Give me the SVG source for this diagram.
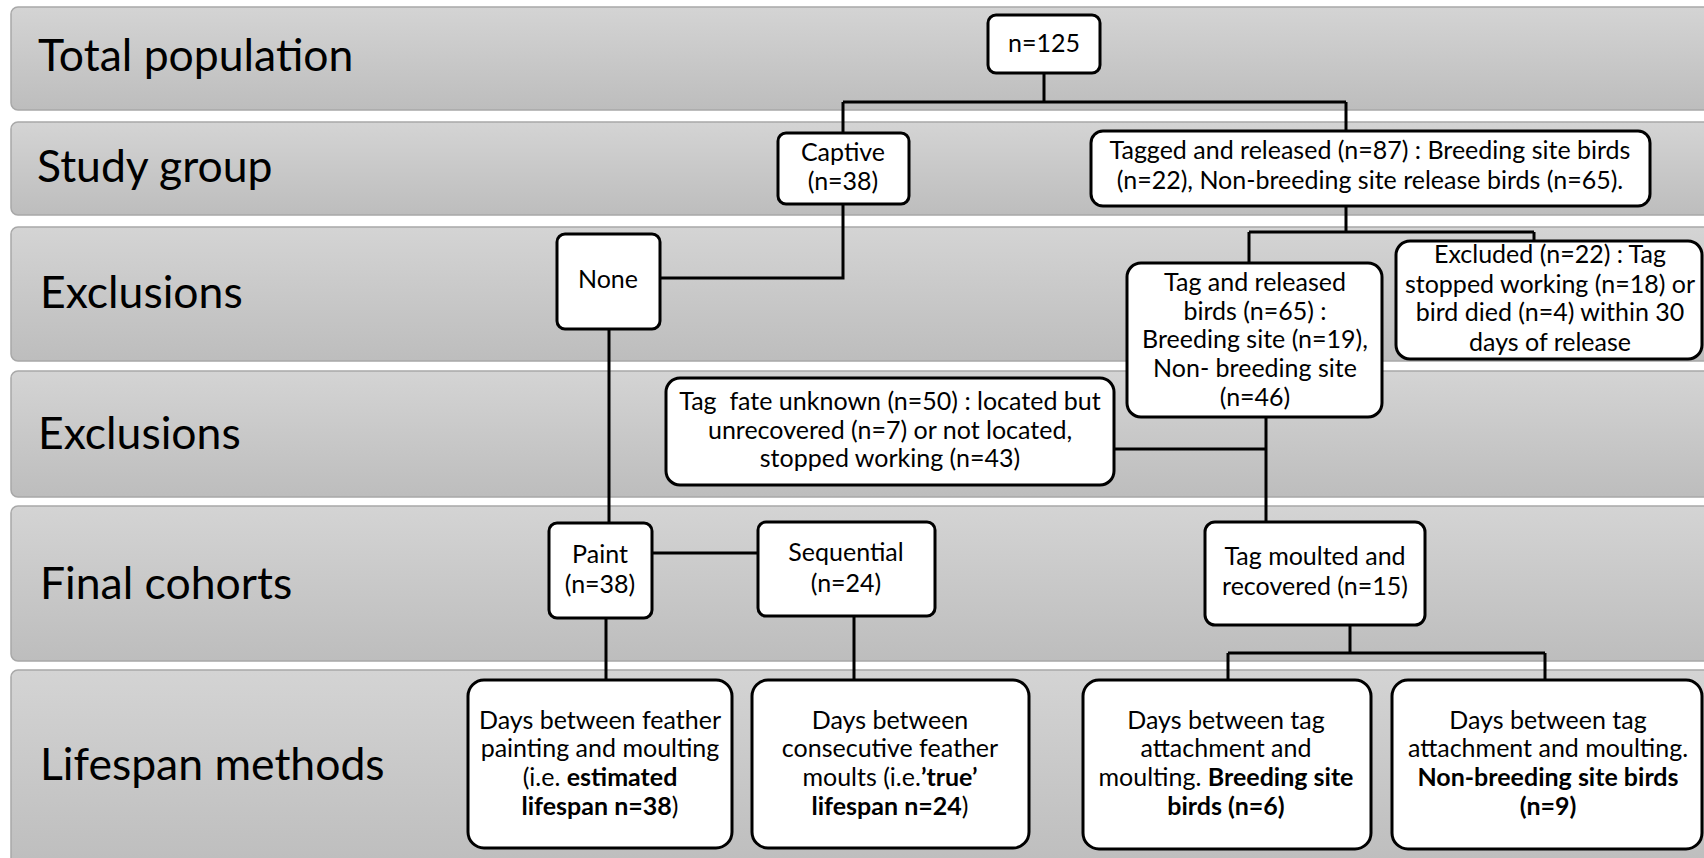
<svg xmlns="http://www.w3.org/2000/svg" width="1704" height="858" viewBox="0 0 1704 858">
<defs>
<linearGradient id="bandGrad" x1="0" y1="0" x2="0" y2="1">
<stop offset="0" stop-color="#d4d4d4"/>
<stop offset="1" stop-color="#bdbdbd"/>
</linearGradient>
<style>
.band{fill:url(#bandGrad);stroke:#a8a8a8;stroke-width:1.5}
.lbl{font-family:Lato,"Open Sans","Liberation Sans",sans-serif;font-size:44.5px;fill:#000}
.box{fill:#fff;stroke:#000;stroke-width:3}
.t{font-family:Lato,"Open Sans","Liberation Sans",sans-serif;font-size:25px;fill:#000;text-anchor:middle}
.b{font-weight:bold}
.con{fill:none;stroke:#000;stroke-width:3}
</style>
</defs>
<rect width="1704" height="858" fill="#fff"/>
<g id="bands">
<rect class="band" x="11" y="7" width="1710" height="103" rx="7"/>
<rect class="band" x="11" y="122" width="1710" height="93" rx="7"/>
<rect class="band" x="11" y="227" width="1710" height="134" rx="7"/>
<rect class="band" x="11" y="371" width="1710" height="126" rx="7"/>
<rect class="band" x="11" y="506" width="1710" height="155" rx="7"/>
<rect class="band" x="11" y="670" width="1710" height="200" rx="7"/>
<text class="lbl" x="38" y="71">Total population</text>
<text class="lbl" x="37" y="182">Study group</text>
<text class="lbl" x="40" y="308">Exclusions</text>
<text class="lbl" x="38" y="449">Exclusions</text>
<text class="lbl" x="40" y="599">Final cohorts</text>
<text class="lbl" x="40" y="780">Lifespan methods</text>
</g>
<g id="connectors">
<path class="con" d="M1044,73 V102 M843,102 H1346 M843,102 V133 M1346,102 V131"/>
<path class="con" d="M843,204 V278 H660"/>
<path class="con" d="M609,329 V523"/>
<path class="con" d="M652,553 H758"/>
<path class="con" d="M606,618 V680 M854,616 V680"/>
<path class="con" d="M1346,206 V232 M1249,232 H1534 M1249,232 V263 M1534,232 V241"/>
<path class="con" d="M1266,417 V522 M1114,449 H1266"/>
<path class="con" d="M1350,625 V653 M1228,653 H1545 M1228,653 V680 M1545,653 V680"/>
</g>
<g id="n125">
<rect class="box" x="988" y="15" width="112" height="58" rx="8"/>
<text class="t" x="1044" y="52">n=125</text>
</g>
<g id="captive">
<rect class="box" x="778" y="133" width="131" height="71" rx="8"/>
<text class="t" x="843" y="161">Captive</text>
<text class="t" x="843" y="190">(n=38)</text>
</g>
<g id="tagged">
<rect class="box" x="1091" y="131" width="559" height="75" rx="12"/>
<text class="t" x="1370" y="159">Tagged and released (n=87) : Breeding site birds</text>
<text class="t" x="1370" y="189">(n=22), Non-breeding site release birds (n=65).</text>
</g>
<g id="none">
<rect class="box" x="557" y="234" width="103" height="95" rx="8"/>
<text class="t" x="608" y="288">None</text>
</g>
<g id="tagreleased">
<rect class="box" x="1127" y="263" width="255" height="154" rx="14"/>
<text class="t" x="1255" y="291">Tag and released</text>
<text class="t" x="1255" y="320">birds (n=65) :</text>
<text class="t" x="1255" y="348">Breeding site (n=19),</text>
<text class="t" x="1255" y="377">Non- breeding site</text>
<text class="t" x="1255" y="406">(n=46)</text>
</g>
<g id="excluded">
<rect class="box" x="1396" y="241" width="306" height="118" rx="14"/>
<text class="t" x="1550" y="263">Excluded (n=22) : Tag</text>
<text class="t" x="1550" y="293">stopped working (n=18) or</text>
<text class="t" x="1550" y="321">bird died (n=4) within 30</text>
<text class="t" x="1550" y="351">days of release</text>
</g>
<g id="fate">
<rect class="box" x="666" y="378" width="448" height="107" rx="14"/>
<text class="t" x="890" y="410" xml:space="preserve">Tag  fate unknown (n=50) : located but</text>
<text class="t" x="890" y="439">unrecovered (n=7) or not located,</text>
<text class="t" x="890" y="467">stopped working (n=43)</text>
</g>
<g id="paint">
<rect class="box" x="549" y="523" width="103" height="95" rx="8"/>
<text class="t" x="600" y="563">Paint</text>
<text class="t" x="600" y="593">(n=38)</text>
</g>
<g id="sequential">
<rect class="box" x="758" y="522" width="177" height="94" rx="8"/>
<text class="t" x="846" y="561">Sequential</text>
<text class="t" x="846" y="592">(n=24)</text>
</g>
<g id="moulted">
<rect class="box" x="1205" y="522" width="220" height="103" rx="10"/>
<text class="t" x="1315" y="565">Tag moulted and</text>
<text class="t" x="1315" y="595">recovered (n=15)</text>
</g>
<g id="lifespan1">
<rect class="box" x="468" y="680" width="264" height="168" rx="16"/>
<text class="t" x="600" y="729">Days between feather</text>
<text class="t" x="600" y="757">painting and moulting</text>
<text class="t" x="600" y="786">(i.e. <tspan class="b">estimated</tspan></text>
<text class="t" x="600" y="815"><tspan class="b">lifespan n=38</tspan>)</text>
</g>
<g id="lifespan2">
<rect class="box" x="752" y="680" width="277" height="168" rx="16"/>
<text class="t" x="890" y="729">Days between</text>
<text class="t" x="890" y="757">consecutive feather</text>
<text class="t" x="890" y="786">moults (i.e.<tspan class="b">’true’</tspan></text>
<text class="t" x="890" y="815"><tspan class="b">lifespan n=24</tspan>)</text>
</g>
<g id="lifespan3">
<rect class="box" x="1083" y="680" width="288" height="169" rx="16"/>
<text class="t" x="1226" y="729">Days between tag</text>
<text class="t" x="1226" y="757">attachment and</text>
<text class="t" x="1226" y="786">moulting. <tspan class="b">Breeding site</tspan></text>
<text class="t" x="1226" y="815" font-weight="bold">birds (n=6)</text>
</g>
<g id="lifespan4">
<rect class="box" x="1392" y="680" width="310" height="169" rx="16"/>
<text class="t" x="1548" y="729">Days between tag</text>
<text class="t" x="1548" y="757">attachment and moulting.</text>
<text class="t" x="1548" y="786" font-weight="bold">Non-breeding site birds</text>
<text class="t" x="1548" y="815" font-weight="bold">(n=9)</text>
</g>
</svg>
